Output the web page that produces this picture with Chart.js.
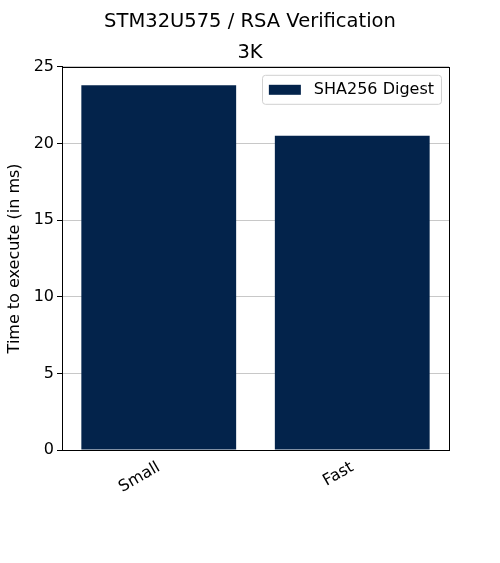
<!DOCTYPE html>
<html>
<head>
<meta charset="utf-8">
<script src="https://cdn.jsdelivr.net/npm/chart.js@4/dist/chart.umd.min.js"></script>
<style>
  html, body { margin: 0; padding: 0; background: #fff; }
  #wrap { width: 500px; height: 563px; }
</style>
</head>
<body>
<div id="wrap"><canvas id="chart"></canvas></div>
<script>
// values
const categories = ['Small', 'Fast'];
const digestTimes = [23.8, 20.5];
const seriesLabel = 'SHA256 Digest';
const yTicks = [0, 5, 10, 15, 20, 25];

const font = 'DejaVu Sans';
const barColor = '#03234B';

// black frame round the plot area (matplotlib spines) + boxed legend in the upper right
const frame = {
    id: 'frame',
    afterDatasetsDraw(chart) {
        const { ctx, chartArea: a } = chart;
        ctx.save();
        ctx.strokeStyle = '#000';
        ctx.lineWidth = 1;
        ctx.strokeRect(Math.round(a.left) + 0.5, Math.round(a.top) + 0.5,
            Math.round(a.right - a.left), Math.round(a.bottom - a.top));

        // legend
        const ds = chart.data.datasets[0];
        ctx.font = '16px "' + font + '"';
        const tw = ctx.measureText(ds.label).width;
        const w = 7 + 32 + 13 + tw + 7;
        const h = 29;
        const x = a.right - 8 - w;
        const y = a.top + 8;
        ctx.fillStyle = 'rgba(255,255,255,0.8)';
        ctx.strokeStyle = '#d0d0d0';
        ctx.beginPath();
        ctx.roundRect(Math.round(x) + 0.5, y + 0.5, Math.round(w), h, 3);
        ctx.fill();
        ctx.stroke();
        ctx.fillStyle = ds.backgroundColor;
        ctx.fillRect(x + 7, y + 10, 32, 10);
        ctx.fillStyle = '#000';
        ctx.textBaseline = 'middle';
        ctx.fillText(ds.label, x + 7 + 32 + 13, y + 15);
        ctx.restore();
    }
};

new Chart(document.getElementById('chart'), {
    type: 'bar',
    data: {
        labels: categories,
        datasets: [{
            label: seriesLabel,
            data: digestTimes,
            backgroundColor: barColor,
            borderWidth: 0,
            barPercentage: 0.8,
            categoryPercentage: 1.0
        }]
    },
    options: {
        responsive: true,
        maintainAspectRatio: false,
        animation: false,
        layout: { padding: 0 },
        plugins: {
            title: {
                display: true,
                text: 'STM32U575 / RSA Verification',
                color: '#000',
                font: { family: font, size: 19.5, weight: 'normal' },
                padding: { top: 10, bottom: 0 }
            },
            subtitle: {
                display: true,
                text: '3K',
                color: '#000',
                font: { family: font, size: 19.5, weight: 'normal' },
                padding: { top: 8, bottom: 2 }
            },
            legend: { display: false },
            tooltip: { enabled: false }
        },
        scales: {
            x: {
                offset: true,
                grid: { display: false, drawTicks: true, tickLength: 5, color: '#000' },
                border: { display: true, color: '#000' },
                ticks: {
                    color: '#000',
                    font: { family: font, size: 16 },
                    minRotation: 30,
                    maxRotation: 30
                },
                afterFit(scale) { scale.height = 113; }
            },
            y: {
                min: 0,
                max: 25,
                afterBuildTicks(scale) { scale.ticks = yTicks.map(v => ({ value: v })); },
                grid: {
                    color: '#c8c8c8',
                    tickColor: '#000',
                    tickLength: 5
                },
                border: { display: true, color: '#000' },
                ticks: {
                    color: '#000',
                    font: { family: font, size: 16 },
                    padding: 3
                },
                title: {
                    display: true,
                    text: 'Time to execute (in ms)',
                    color: '#000',
                    font: { family: font, size: 16 },
                    padding: { top: 5, bottom: 2 }
                },
                afterFit(scale) { scale.width = 62; }
            },
            // empty right-hand axis, only keeps the right margin so the titles stay centred
            yPad: {
                position: 'right',
                min: 0,
                max: 25,
                grid: { display: false },
                border: { display: false },
                ticks: { display: false },
                afterFit(scale) { scale.width = 51; }
            }
        }
    },
    plugins: [frame]
});
</script>
</body>
</html>
